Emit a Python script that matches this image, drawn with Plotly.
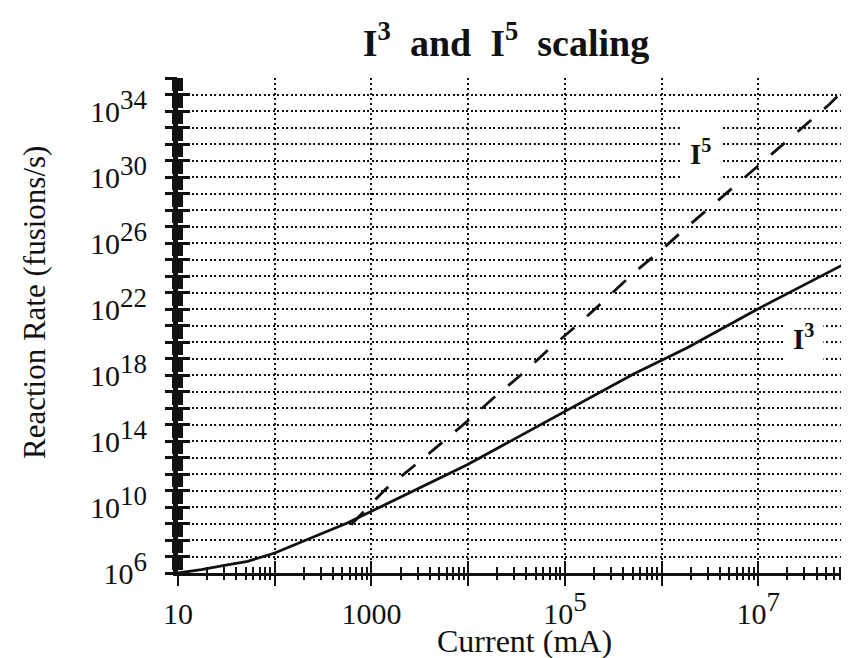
import numpy as np
import plotly.graph_objects as go

# ---- data (log10 values) ----
i3_current_exp = [1.0, 1.24, 1.48, 1.72, 2.0, 2.37, 2.75, 3.0, 3.27, 3.99, 5.71, 6.26, 6.98, 7.976]
i3_rate_exp    = [6.0, 6.2, 6.46, 6.71, 7.21, 8.12, 9.03, 9.74, 10.5, 12.56, 18.06, 19.64, 21.96, 24.99]

i5_current_exp = [2.79, 3.14, 3.54, 3.99, 4.27, 4.56, 4.84, 5.14, 5.40, 5.69, 6.0, 6.27, 7.73, 7.976]
i5_rate_exp    = [8.93, 11.05, 12.97, 15.19, 16.65, 18.08, 19.59, 21.09, 22.47, 24.08, 25.6, 27.0, 34.38, 35.8]

x_tick_exp = [1, 2, 3, 4, 5, 6, 7, 8]
x_tick_text = ["10", "", "1000", "", "10<sup>5</sup>", "", "10<sup>7</sup>", ""]
y_tick_exp = list(range(6, 37))
y_label_exp = [6, 10, 14, 18, 22, 26, 30, 34]

title_text = "I<sup>3</sup>  and  I<sup>5</sup>  scaling"
x_title = "Current (mA)"
y_title = "Reaction Rate (fusions/s)"

SERIF = "Liberation Serif, Times New Roman, serif"
BLACK = "#111111"

x_major = [10.0 ** e for e in x_tick_exp]
x_text = [t.replace("<sup>", "<sup><span style=\"font-size:27px\">").replace("</sup>", "</span></sup>")
          for t in x_tick_text]
y_major = [10.0 ** e for e in y_tick_exp]
y_text = [("10<sup><span style=\"font-size:27px\">%d</span></sup>" % e) if e in y_label_exp else ""
          for e in y_tick_exp]
x_minor = [m * 10.0 ** e for e in range(1, 8) for m in range(2, 10)]
y_minor = [m * 10.0 ** e for e in range(6, 36) for m in range(2, 10)]

fig = go.Figure()
fig.add_trace(go.Scatter(
    x=[10.0 ** v for v in i3_current_exp], y=[10.0 ** v for v in i3_rate_exp],
    mode="lines", line=dict(color=BLACK, width=2.8), name="I3", hoverinfo="skip"))
fig.add_trace(go.Scatter(
    x=[10.0 ** v for v in i5_current_exp], y=[10.0 ** v for v in i5_rate_exp],
    mode="lines", line=dict(color=BLACK, width=2.8, dash="18px,17px"), name="I5", hoverinfo="skip"))
# invisible trace to bring overlay axes to life
fig.add_trace(go.Scatter(x=[10], y=[1e6], xaxis="x2", yaxis="y2", mode="markers",
                         marker=dict(opacity=0), hoverinfo="skip", showlegend=False))

XR = [1, 8.02]
YR = [6, 36]

fig.update_layout(
    width=849, height=658,
    margin=dict(l=170, r=0, t=70, b=93),
    paper_bgcolor="white", plot_bgcolor="white",
    showlegend=False,
    font=dict(family=SERIF, color=BLACK),
    title=dict(text=title_text, x=498 / 849, xanchor="center", y=1 - 35 / 658, yanchor="middle",
               font=dict(family=SERIF, size=38, color=BLACK, weight="bold")),
    xaxis=dict(type="log", range=XR, tickmode="array", tickvals=x_major, ticktext=[""] * len(x_major),
               ticks="inside", ticklen=12, tickwidth=2, tickcolor=BLACK,
               showline=True, linewidth=3, linecolor=BLACK, mirror=False,
               showgrid=True, gridcolor=BLACK, gridwidth=1.5, griddash="2px,3px",
               minor=dict(tickmode="array", tickvals=x_minor, ticks="inside", ticklen=6,
                          tickwidth=2, tickcolor=BLACK, showgrid=False),
               zeroline=False),
    yaxis=dict(type="log", range=YR, tickmode="array", tickvals=y_major, ticktext=[""] * len(y_major),
               ticks="inside", ticklen=12, tickwidth=3, tickcolor=BLACK,
               showline=True, linewidth=5, linecolor=BLACK,
               showgrid=True, gridcolor=BLACK, gridwidth=2, griddash="2px,2.5px",
               minor=dict(tickmode="array", tickvals=y_minor, ticks="inside", ticklen=5,
                          tickwidth=2.5, tickcolor=BLACK, showgrid=False),
               zeroline=False),
    xaxis2=dict(type="log", range=XR, overlaying="x", anchor="y2", side="bottom",
                tickmode="array", tickvals=x_major, ticktext=x_text,
                ticks="outside", ticklen=12, tickwidth=2, tickcolor=BLACK,
                tickfont=dict(family=SERIF, size=30, color=BLACK), ticklabelstandoff=2,
                showline=False, showgrid=False, zeroline=False,
                minor=dict(tickmode="array", tickvals=x_minor, ticks="outside", ticklen=6,
                           tickwidth=2, tickcolor=BLACK, showgrid=False)),
    yaxis2=dict(type="log", range=YR, overlaying="y", anchor="x2", side="left",
                tickmode="array", tickvals=y_major, ticktext=y_text,
                ticks="outside", ticklen=12, tickwidth=3, tickcolor=BLACK,
                tickfont=dict(family=SERIF, size=30, color=BLACK), ticklabelstandoff=12,
                showline=False, showgrid=False, zeroline=False,
                minor=dict(tickmode="array", tickvals=y_minor, ticks="outside", ticklen=5,
                           tickwidth=2.5, tickcolor=BLACK, showgrid=False)),
)

fig.add_annotation(text="I<sup>5</sup>", xref="x", yref="y", x=6.40, y=31.5,
                   showarrow=False, bgcolor="white", borderpad=9,
                   font=dict(family=SERIF, size=29, color=BLACK, weight="bold"))
fig.add_annotation(text="I<sup>3</sup>", xref="x", yref="y", x=7.47, y=20.3,
                   showarrow=False, bgcolor="white", borderpad=9,
                   font=dict(family=SERIF, size=29, color=BLACK, weight="bold"))

fig.add_annotation(text=x_title, xref="paper", yref="paper", x=(516 - 170) / 679, y=(565 - 633) / 495,
                   xanchor="center", yanchor="middle", showarrow=False,
                   font=dict(family=SERIF, size=32, color=BLACK))
fig.add_annotation(text=y_title, xref="paper", yref="paper", x=(26 - 170) / 679, y=(565 - 295) / 495,
                   xanchor="center", yanchor="middle", showarrow=False, textangle=-90,
                   font=dict(family=SERIF, size=31, color=BLACK))

fig.write_html("out.html")
